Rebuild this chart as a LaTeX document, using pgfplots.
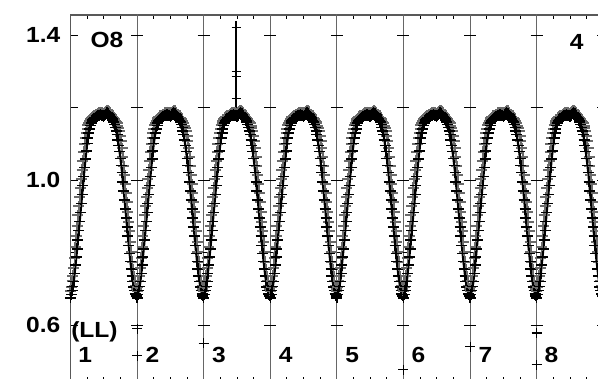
\documentclass[border=0pt]{standalone}
\usepackage{pgfplots}
\pgfplotsset{compat=1.18}
\usepackage{pgfplotstable}
\usepackage{fontspec}
\setmainfont{Liberation Sans}[FakeStretch=1.12]
\newcommand\fs{\fontsize{22}{26}\selectfont\bfseries}

% one cycle of the folded curve: p = phase, y = black series, g = grey series
\pgfplotstableread{
p y g
0.0000 0.675 0.695
0.0125 0.684 0.706
0.0250 0.695 0.720
0.0375 0.706 0.736
0.0500 0.720 0.756
0.0625 0.742 0.785
0.0750 0.765 0.815
0.0875 0.788 0.845
0.1000 0.810 0.873
0.1125 0.835 0.903
0.1250 0.860 0.928
0.1375 0.885 0.953
0.1500 0.910 0.978
0.1625 0.935 1.003
0.1750 0.960 1.028
0.1875 0.985 1.053
0.2000 1.010 1.078
0.2125 1.034 1.099
0.2250 1.058 1.116
0.2375 1.080 1.130
0.2500 1.100 1.142
0.2625 1.116 1.151
0.2750 1.130 1.158
0.2875 1.141 1.163
0.3000 1.150 1.167
0.3125 1.157 1.170
0.3250 1.163 1.173
0.3375 1.167 1.174
0.3500 1.170 1.177
0.3625 1.171 1.178
0.3750 1.172 1.179
0.3875 1.174 1.181
0.4000 1.175 1.182
0.4125 1.177 1.184
0.4250 1.178 1.185
0.4375 1.179 1.186
0.4500 1.180 1.187
0.4625 1.179 1.186
0.4750 1.178 1.185
0.4875 1.177 1.184
0.5000 1.176 1.183
0.5125 1.178 1.185
0.5250 1.180 1.187
0.5375 1.183 1.190
0.5500 1.185 1.192
0.5625 1.184 1.191
0.5750 1.183 1.190
0.5875 1.179 1.186
0.6000 1.175 1.182
0.6125 1.172 1.179
0.6250 1.168 1.175
0.6375 1.164 1.171
0.6500 1.160 1.170
0.6625 1.153 1.167
0.6750 1.145 1.164
0.6875 1.135 1.160
0.7000 1.125 1.157
0.7125 1.110 1.150
0.7250 1.095 1.143
0.7375 1.078 1.134
0.7500 1.060 1.122
0.7625 1.040 1.108
0.7750 1.020 1.088
0.7875 0.995 1.063
0.8000 0.970 1.038
0.8125 0.945 1.013
0.8250 0.920 0.988
0.8375 0.895 0.963
0.8500 0.870 0.938
0.8625 0.845 0.913
0.8750 0.820 0.885
0.8875 0.798 0.858
0.9000 0.775 0.829
0.9125 0.755 0.802
0.9250 0.735 0.775
0.9375 0.720 0.754
0.9500 0.705 0.734
0.9625 0.695 0.720
0.9750 0.685 0.707
0.9875 0.680 0.700
1.0000 0.675 0.695
}\cycledata

\begin{document}
\begin{tikzpicture}
\path[use as bounding box] (0,0) rectangle (598bp,379bp);
\begin{axis}[
  at={(70.5bp,-2bp)}, anchor=south west,
  scale only axis, width=532.8bp, height=366bp,
  xmin=0, xmax=8, ymin=0.4455, ymax=1.4552,
  xtick={0,1,2,3,4,5,6,7,8}, xticklabels={}, minor x tick num=3,
  ytick={0.6,0.8,1.0,1.2,1.4}, yticklabels={0.6,,1.0,,1.4},
  ytick pos=left,
  tick align=inside, major tick length=7bp, minor tick length=4bp,
  tick style={black, line width=0.9bp},
  axis line style={black!65, line width=1.3bp},
  yticklabel style={font=\fs, inner sep=0pt, xshift=-10bp},
]
\pgfplotsinvokeforeach{1,2,3,4,5,6,7,8}{
  \draw[black!60, line width=1bp] (axis cs:#1,0.44) -- (axis cs:#1,1.46);
  \draw[black, line width=0.9bp] ([xshift=-6bp]axis cs:#1,0.6) -- ([xshift=6bp]axis cs:#1,0.6);
  \draw[black, line width=0.9bp] ([xshift=-6bp]axis cs:#1,0.8) -- ([xshift=6bp]axis cs:#1,0.8);
  \draw[black, line width=0.9bp] ([xshift=-6bp]axis cs:#1,1.0) -- ([xshift=6bp]axis cs:#1,1.0);
  \draw[black, line width=0.9bp] ([xshift=-6bp]axis cs:#1,1.2) -- ([xshift=6bp]axis cs:#1,1.2);
  \draw[black, line width=0.9bp] ([xshift=-6bp]axis cs:#1,1.4) -- ([xshift=6bp]axis cs:#1,1.4);
}
\pgfplotsinvokeforeach{0,1,2,3,4,5,6,7}{
  \addplot[only marks, mark=+, mark size=5.5bp, black!58, mark options={line width=2bp}]
    table[x expr=\thisrow{p}+#1, y=g] {\cycledata};
  \addplot[black, line width=2.2bp, mark=+, mark size=5.5bp, mark options={line width=1.4bp}]
    table[x expr=\thisrow{p}+#1, y=y] {\cycledata};
}
\addplot[black, line width=1.1bp, mark=+, mark size=4.5bp, mark indices={2,3,4,5}]
  coordinates {(2.485,1.18)(2.485,1.225)(2.485,1.285)(2.485,1.30)(2.485,1.42)(2.485,1.44)};
\addplot[only marks, black, mark=+, mark size=5bp, mark options={line width=1.1bp}]
  coordinates {(1,0.59)(1,0.515)(2,0.55)(5,0.476)(6,0.54)(7,0.578)(7,0.49)};

\node[font=\fs] at (axis cs:0.548,1.386) {O8};
\node[font=\fs] at (axis cs:7.6,1.38) {4};
\node[font=\fs] at (axis cs:0.36,0.58) {(LL)};
\node[font=\fs] at (axis cs:0.22,0.517) {1};
\node[font=\fs] at (axis cs:1.23,0.517) {2};
\node[font=\fs] at (axis cs:2.23,0.517) {3};
\node[font=\fs] at (axis cs:3.23,0.517) {4};
\node[font=\fs] at (axis cs:4.23,0.517) {5};
\node[font=\fs] at (axis cs:5.225,0.517) {6};
\node[font=\fs] at (axis cs:6.23,0.517) {7};
\node[font=\fs] at (axis cs:7.22,0.517) {8};
\end{axis}
\end{tikzpicture}
\end{document}
